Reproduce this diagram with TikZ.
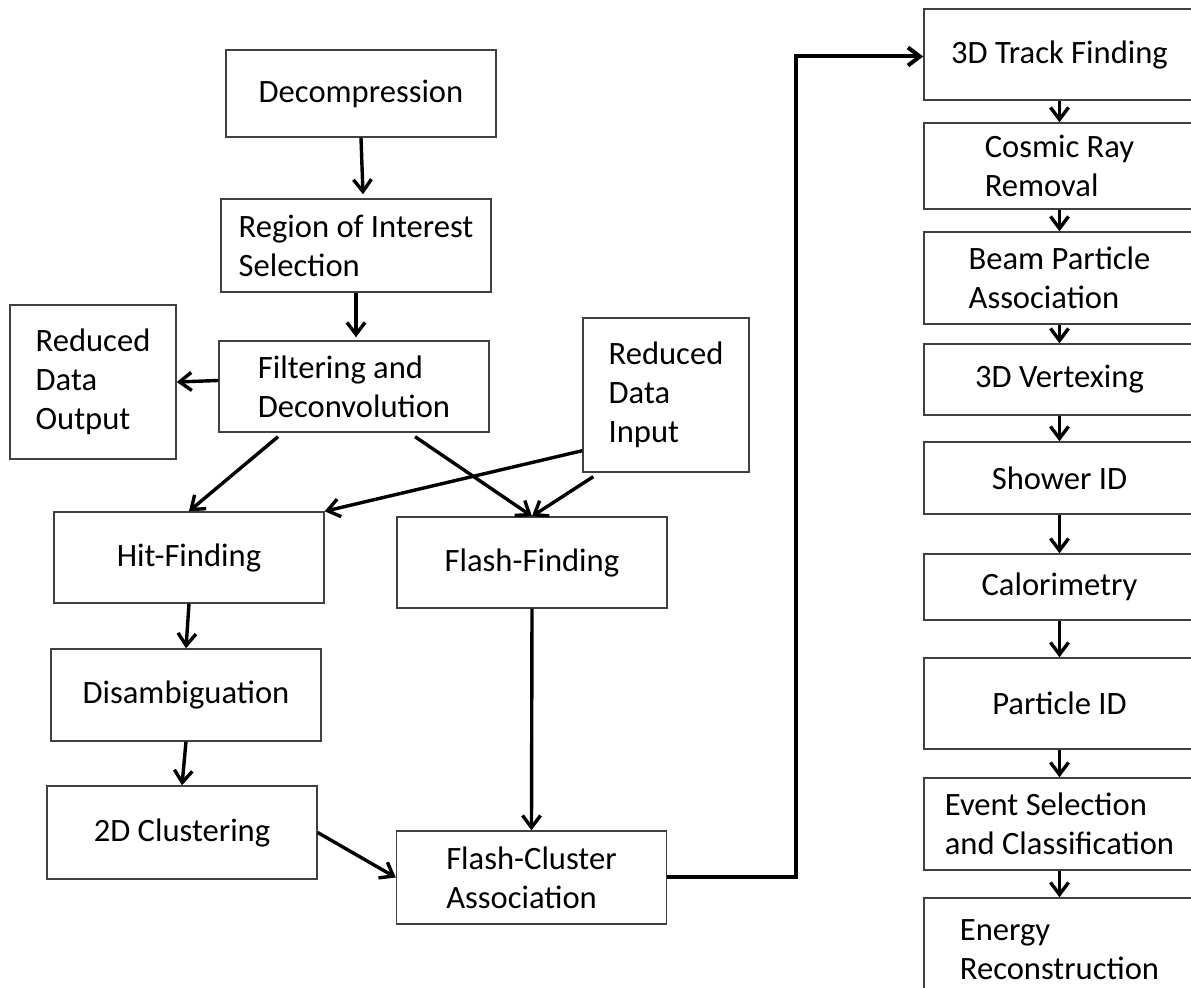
\documentclass[tikz,border=0pt]{standalone}
\usepackage{fontspec}
\setmainfont{Carlito}
\usetikzlibrary{arrows.meta,calc}

\begin{document}
\begin{tikzpicture}[
  x=0.5pt, y=-0.5pt,
  box/.style={draw=black!75, line width=0.7pt, align=left, minimum width=135pt, inner sep=2pt, font=\fontsize{16.3}{19.5}\selectfont},
  stage/.style={box, minimum width=135.5pt},
  arr/.style={-{Straight Barb[length=6pt, width=9pt]}, line width=1.7pt}
]
\useasboundingbox (0,0) rectangle (1191,988);
\clip (0,0) rectangle (1191,988);

% left part: 2D chain
\node[box, minimum height=43.5pt] (dec) at (361,93.5) {Decompression};
\node[box, minimum height=46.5pt] (roi) at (356,245.5) {Region of Interest\\Selection};
\node[box, minimum height=45.5pt] (filt) at (354,386.5) {Filtering and\\Deconvolution};
\node[box, minimum width=83pt, minimum height=77pt] (rdo) at (93,382) {Reduced\\Data\\Output};
\node[box, minimum width=83pt, minimum height=77pt] (rdi) at (666,395) {Reduced\\Data\\Input};
\node[box, minimum height=45.5pt] (hit) at (189,557.5) {Hit-Finding};
\node[box, minimum height=45.5pt] (flash) at (532,562.5) {Flash-Finding};
\node[box, minimum height=46pt] (dis) at (186,695) {Disambiguation};
\node[box, minimum height=46.5pt] (clu) at (182,832.5) {2D Clustering};
\node[box, minimum height=46.5pt] (fca) at (531.5,877.5) {Flash-Cluster\\Association};

% right column: 3D chain
\node[stage, minimum height=45.5pt] (trk) at (1059.5,54.5) {3D Track Finding};
\node[stage, minimum height=43pt] (cos) at (1059.5,166) {Cosmic Ray\\Removal};
\node[stage, minimum height=46pt] (beam) at (1059.5,278) {Beam Particle\\Association};
\node[stage, minimum height=35.5pt] (vtx) at (1059.5,379.5) {3D Vertexing};
\node[stage, minimum height=36pt] (shw) at (1059.5,478) {Shower ID};
\node[stage, minimum height=33pt] (cal) at (1059.5,587) {Calorimetry};
\node[stage, minimum height=45.5pt] (pid) at (1059.5,703.5) {Particle ID};
\node[stage, minimum height=46pt] (evt) at (1059.5,824) {Event Selection\\and Classification};
\node[stage, minimum height=52pt] (ene) at (1059.5,950) {Energy\\Reconstruction};

\coordinate (bend) at (796,0);

\draw[arr] (dec.south) -- ($(roi.north)+(7,-4)$);
\draw[arr] (roi.south) -- ($(filt.north)+(2,-3)$);
\draw[arr] ($(filt.west)+(0,-6)$) -- (rdo.east);
\draw[arr] ($(filt.south)+(-76,4)$) -- (hit.north);
\draw[arr] ($(filt.south)+(61,4)$) -- (flash.north);
\draw[arr] ($(rdi.south west)+(0,-22)$) -- (hit.north east);
\draw[arr] ($(rdi.south west)+(11,4)$) -- (flash.north);
\draw[arr] (hit.south) -- (dis.north);
\draw[arr] (dis.south) -- (clu.north);
\draw[arr] (flash.south) -- (fca.north);
\draw[arr] (clu.east) -- (fca.west);
\draw[arr, line width=2pt] (fca.east) -- (fca.east -| bend) |- ($(trk.west)+(0,2)$);

\draw[arr] (trk.south) -- (cos.north);
\draw[arr] (cos.south) -- (beam.north);
\draw[arr] (beam.south) -- (vtx.north);
\draw[arr] (vtx.south) -- (shw.north);
\draw[arr] (shw.south) -- (cal.north);
\draw[arr] (cal.south) -- (pid.north);
\draw[arr] (pid.south) -- (evt.north);
\draw[arr] (evt.south) -- (ene.north);
\end{tikzpicture}
\end{document}
